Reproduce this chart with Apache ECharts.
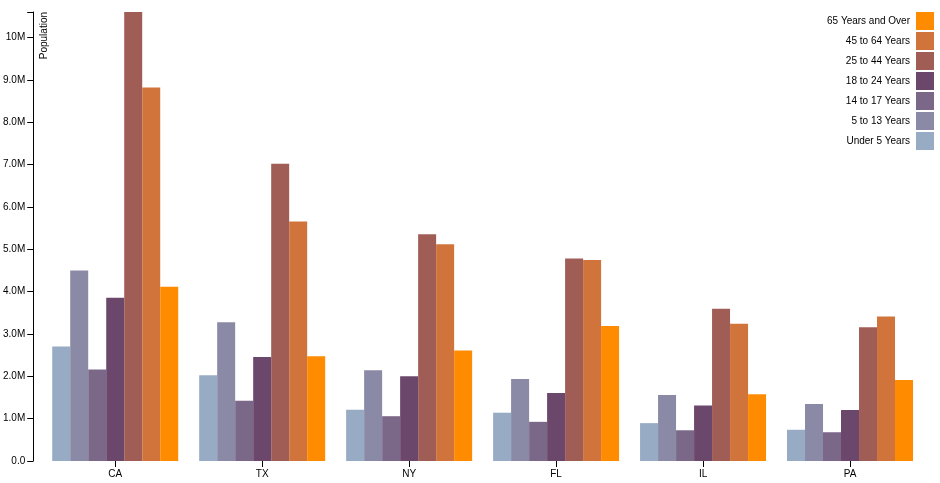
<!DOCTYPE html>
<html>
<head>
<meta charset="utf-8">
<script src="https://cdn.jsdelivr.net/npm/echarts@6/dist/echarts.min.js"></script>
<style>
  html, body { margin: 0; padding: 0; background: #fff; }
  #chart { width: 940px; height: 483px; }
</style>
</head>
<body>
<div id="chart"></div>
<script>
const states = ['CA', 'TX', 'NY', 'FL', 'IL', 'PA'];
const ageGroups = ['Under 5 Years', '5 to 13 Years', '14 to 17 Years', '18 to 24 Years', '25 to 44 Years', '45 to 64 Years', '65 Years and Over'];
const under5 = [2704659, 2027307, 1208495, 1140516, 894368, 737462];
const age5to13 = [4499890, 3277946, 2141490, 1938695, 1558919, 1345341];
const age14to17 = [2159981, 1420518, 1058031, 925060, 725973, 679201];
const age18to24 = [3853788, 2454721, 1999120, 1607297, 1311479, 1203944];
const age25to44 = [10604510, 7017731, 5355235, 4782119, 3596343, 3157759];
const age45to64 = [8819342, 5656528, 5120254, 4746856, 3239173, 3414001];
const age65plus = [4114496, 2472223, 2607672, 3187797, 1575308, 1910571];
const yTickValues = [0, 1000000, 2000000, 3000000, 4000000, 5000000, 6000000, 7000000, 8000000, 9000000, 10000000];
const yTickStep = 1000000;
const yAxisTitle = 'Population';

const seriesValues = [under5, age5to13, age14to17, age18to24, age25to44, age45to64, age65plus];
const colors = ['#98abc5', '#8a89a6', '#7b6888', '#6b486b', '#a05d56', '#d0743c', '#ff8c00'];
const FONT = '"Liberation Sans", Arial, Helvetica, sans-serif';
const maxVal = Math.max.apply(null, seriesValues.map(a => Math.max.apply(null, a)));

const chart = echarts.init(document.getElementById('chart'), null, { renderer: 'canvas' });
chart.setOption({
  animation: false,
  color: colors,
  textStyle: { fontFamily: FONT },
  grid: { left: 41.5, right: 16.5, top: 12, bottom: 22, containLabel: false },
  legend: {
    data: ageGroups.slice().reverse(),
    orient: 'vertical',
    right: 6,
    top: 12,
    align: 'right',
    itemWidth: 18,
    itemHeight: 18,
    itemGap: 2,
    icon: 'rect',
    selectedMode: false,
    padding: 0,
    textStyle: { fontFamily: FONT, fontSize: 10, color: '#000', padding: [0, 1, 0, 0] }
  },
  xAxis: {
    type: 'category',
    data: states,
    axisLine: { show: false },
    axisTick: { show: true, alignWithLabel: true, length: 6, lineStyle: { color: '#000', width: 1 } },
    axisLabel: { fontFamily: FONT, fontSize: 10, color: '#000', margin: 8 },
    splitLine: { show: false }
  },
  yAxis: {
    type: 'value',
    min: 0,
    max: maxVal,
    interval: yTickStep,
    offset: 8.5,
    axisLine: { show: true, lineStyle: { color: '#000', width: 1 } },
    axisTick: { show: true, length: 6, customValues: yTickValues.concat([maxVal]), lineStyle: { color: '#000', width: 1 } },
    axisLabel: {
      fontFamily: FONT, fontSize: 10, color: '#000', margin: 8,
      customValues: yTickValues,
      formatter: function (v) {
        if (v === 0) return '0.0';
        return (v / 1e6).toPrecision(2) + 'M';
      }
    },
    splitLine: { show: false }
  },
  graphic: [{
    type: 'text',
    x: 39,
    y: 12,
    rotation: Math.PI / 2,
    style: {
      text: yAxisTitle,
      fontFamily: FONT,
      fontSize: 10,
      fill: '#000',
      textAlign: 'right',
      textVerticalAlign: 'top'
    }
  }],
  series: ageGroups.map((name, i) => ({
    name: name,
    type: 'bar',
    data: seriesValues[i],
    barWidth: 18,
    barGap: '0%',
    itemStyle: { color: colors[i] }
  }))
});
</script>
</body>
</html>
